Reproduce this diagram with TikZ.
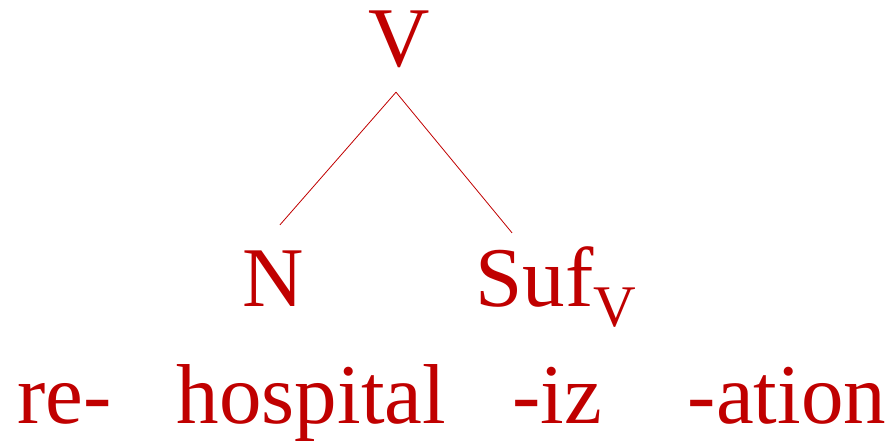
\documentclass[tikz,border=0pt]{standalone}
\usepackage{fontspec}
\setmainfont{Liberation Serif}
\definecolor{treered}{RGB}{192,0,0}
\newcommand{\bigtext}{\fontsize{85}{100}\selectfont}
\newcommand{\subtext}{\fontsize{59}{60}\selectfont}

\begin{document}
\begin{tikzpicture}[x=1pt, y=1pt,
  word/.style={inner sep=0pt, anchor=base, text=treered, font=\bigtext},
  cat/.style={word, text height=81pt, text depth=25pt},
  branch/.style={draw=treered, line width=0.8pt}]

  \useasboundingbox (0,0) rectangle (892,440);

  % ---- category labels ----
  \node[cat] (v)   at (399.5,373) {V};
  \node[cat] (n)   at (273,134)   {N};
  \node[cat] (suf) at (556,134)   {Suf\raisebox{-20pt}{\subtext V}};

  % branches
  \draw[branch] ([xshift=-3.5pt]v.south) -- ([xshift=7pt]n.north);
  \draw[branch] ([xshift=-3.5pt]v.south) -- ([shift={(-44pt,-8pt)}]suf.north);

  % ---- morphemes ----
  \node[word] (re)    at (64.5,17)  {re-};
  \node[word] (hosp)  at (311.5,17) {hospital};
  \node[word] (iz)    at (557,17)   {-iz};
  \node[word] (ation) at (787,17)   {-ation};

\end{tikzpicture}
\end{document}
